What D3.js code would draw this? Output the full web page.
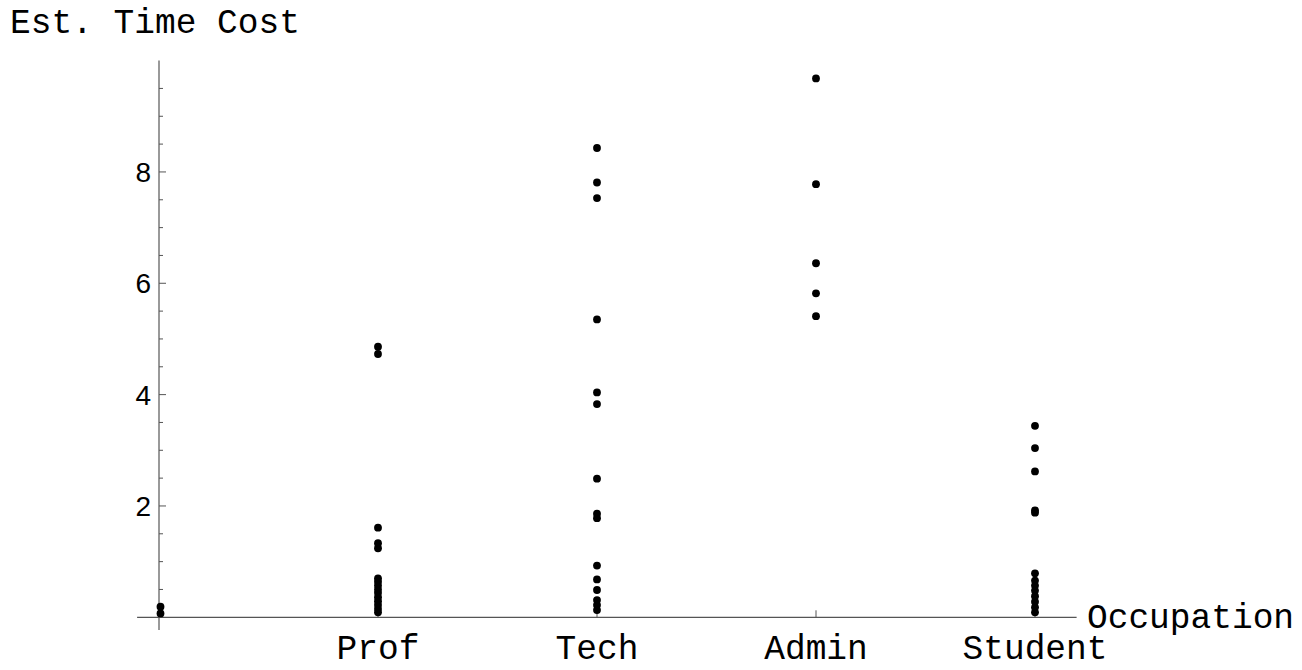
<!DOCTYPE html>
<html>
<head>
<meta charset="utf-8">
<script src="https://cdn.jsdelivr.net/npm/d3@7"></script>
<style>
  body { margin: 0; background: #fff; }
  svg { display: block; }
  .lbl { font-family: "Liberation Mono", "Courier New", monospace; font-size: 34.5px; fill: #000; }
  .num { font-family: "Liberation Sans", Arial, sans-serif; font-size: 28px; fill: #000; }
</style>
</head>
<body>
<div id="chart"></div>
<script>
const categories = ['', 'Prof', 'Tech', 'Admin', 'Student'];

const noneValues = [0.19, 0.07];
const profValues = [4.86, 4.73, 1.61, 1.33, 1.24, 0.70, 0.64, 0.57, 0.50, 0.44, 0.36, 0.29, 0.22, 0.15, 0.09];
const techValues = [8.43, 7.81, 7.53, 5.35, 4.04, 3.83, 2.49, 1.86, 1.78, 0.93, 0.68, 0.49, 0.31, 0.22, 0.13];
const adminValues = [9.68, 7.78, 6.36, 5.82, 5.41];
const studentValues = [3.44, 3.04, 2.62, 1.92, 1.88, 0.79, 0.66, 0.57, 0.48, 0.38, 0.28, 0.18, 0.09];

const yTicks = [2, 4, 6, 8];
const yMinorTicks = d3.range(0.5, 10, 0.5);

const series = [noneValues, profValues, techValues, adminValues, studentValues];

let width = 1302, height = 670;

let svg = d3.select('#chart').append('svg')
    .attr('width', width)
    .attr('height', height);

// linear x with categories at 0..4, like Mathematica's ListPlot
let x = d3.scaleLinear().domain([0, 4]).range([159, 1035]);
let y = d3.scaleLinear().domain([0, 10]).range([617.3, 60.6]);

let axisColor = '#555';

// axes lines
svg.append('line')
    .attr('x1', x(-0.1)).attr('x2', x(4.19))
    .attr('y1', y(0)).attr('y2', y(0))
    .attr('stroke', axisColor).attr('stroke-width', 1.2);
svg.append('line')
    .attr('x1', x(0)).attr('x2', x(0))
    .attr('y1', y(-0.23)).attr('y2', y(10))
    .attr('stroke', axisColor).attr('stroke-width', 1.2);

// y minor ticks
svg.selectAll('.yminor').data(yMinorTicks.filter(d => yTicks.indexOf(d) < 0))
    .enter().append('line')
    .attr('x1', x(0)).attr('x2', x(0) + 4)
    .attr('y1', d => y(d)).attr('y2', d => y(d))
    .attr('stroke', axisColor);

// y major ticks
svg.selectAll('.ymajor').data(yTicks)
    .enter().append('line')
    .attr('x1', x(0)).attr('x2', x(0) + 7)
    .attr('y1', d => y(d)).attr('y2', d => y(d))
    .attr('stroke', axisColor);

svg.selectAll('.ylabel').data(yTicks)
    .enter().append('text').classed('num', true)
    .attr('x', x(0) - 8)
    .attr('y', d => y(d))
    .attr('dy', '0.36em')
    .attr('text-anchor', 'end')
    .text(d => d);

// x ticks + labels
svg.selectAll('.xtick').data(categories.slice(1))
    .enter().append('line')
    .attr('x1', (d, i) => x(i + 1)).attr('x2', (d, i) => x(i + 1))
    .attr('y1', y(0)).attr('y2', y(0) - 7)
    .attr('stroke', axisColor);

svg.selectAll('.xlabel').data(categories.slice(1))
    .enter().append('text').classed('lbl', true)
    .attr('x', (d, i) => x(i + 1))
    .attr('y', 659)
    .attr('text-anchor', 'middle')
    .text(d => d);

// axis labels
svg.append('text').classed('lbl', true)
    .attr('x', 10).attr('y', 33)
    .text('Est. Time Cost');
svg.append('text').classed('lbl', true)
    .attr('x', 1087).attr('y', 628)
    .text('Occupation');

// points
series.forEach(function(vals, i) {
    svg.selectAll('.p' + i).data(vals)
        .enter().append('circle')
        .attr('cx', x(i) + (i === 0 ? 1.5 : 0))
        .attr('cy', d => y(d))
        .attr('r', 3.9)
        .attr('fill', '#000');
});
</script>
</body>
</html>
